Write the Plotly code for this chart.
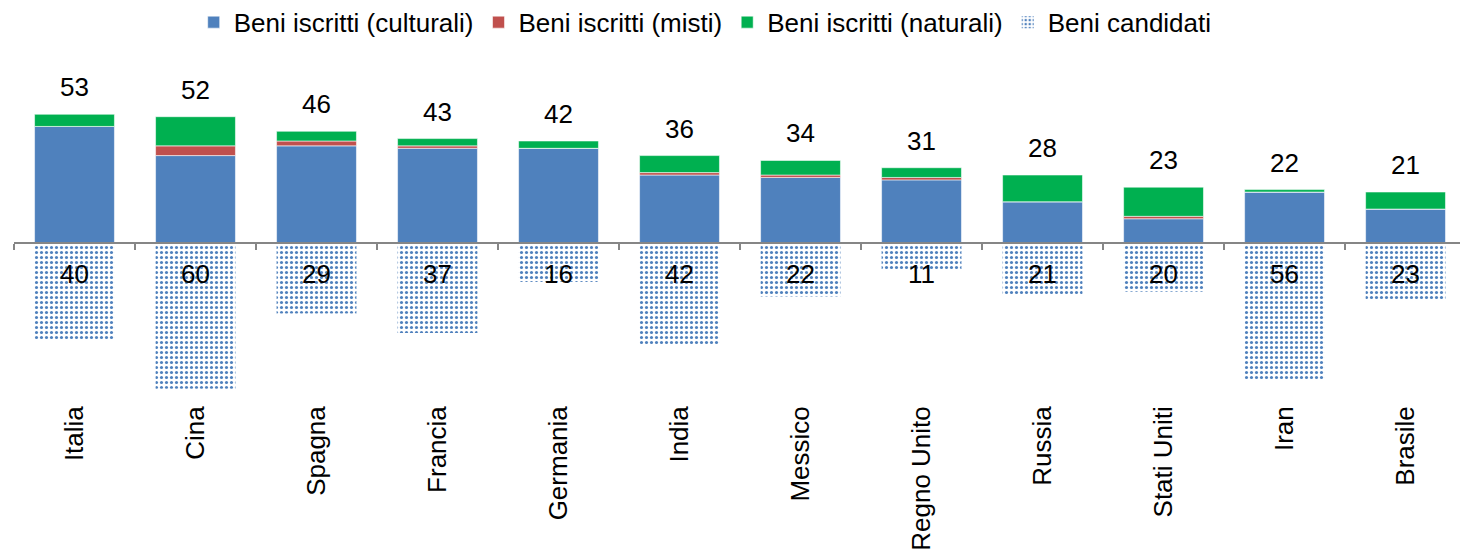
import plotly.graph_objects as go

countries = ["Italia", "Cina", "Spagna", "Francia", "Germania", "India", "Messico",
             "Regno Unito", "Russia", "Stati Uniti", "Iran", "Brasile"]
culturali = [48, 36, 40, 39, 39, 28, 27, 26, 17, 10, 21, 14]
misti = [0, 4, 2, 1, 0, 1, 1, 1, 0, 1, 0, 0]
naturali = [5, 12, 4, 3, 3, 7, 6, 4, 11, 12, 1, 7]
candidati = [40, 60, 29, 37, 16, 42, 22, 11, 21, 20, 56, 23]

totali = [c + m + n for c, m, n in zip(culturali, misti, naturali)]
cand_neg = [-v for v in candidati]

FONT = "Liberation Sans, Arial, sans-serif"
BLUE = "#4F81BD"
RED = "#C0504D"
GREEN = "#00B050"
AXIS = "#868686"

YMIN, YMAX = -64.6, 77.4
XR = [-0.5, 11.45]

fig = go.Figure()
edge = dict(color="rgba(255,255,255,0.55)", width=1)
fig.add_trace(go.Bar(x=countries, y=culturali, name="Beni iscritti (culturali)",
                     marker=dict(color=BLUE, line=edge), width=0.66))
fig.add_trace(go.Bar(x=countries, y=misti, name="Beni iscritti (misti)",
                     marker=dict(color=RED, line=edge), width=0.66))
fig.add_trace(go.Bar(x=countries, y=naturali, name="Beni iscritti (naturali)",
                     marker=dict(color=GREEN, line=edge), width=0.66))
fig.add_trace(go.Bar(x=countries, y=cand_neg, name="Beni candidati",
                     marker=dict(color="white", line=dict(width=0),
                                 pattern=dict(shape=".", fgcolor=BLUE, bgcolor="white",
                                              size=5, solidity=0.3, fillmode="replace")),
                     width=0.66))

# dummy trace so the zero-line axis is drawn
fig.add_trace(go.Scatter(x=[XR[0], XR[1]], y=[0, 0], xaxis="x2", mode="none",
                         showlegend=False, hoverinfo="skip"))

for c, t in zip(countries, totali):
    fig.add_annotation(x=c, y=t, text=str(t), showarrow=False, yshift=27,
                       yanchor="middle", font=dict(size=26, color="black", family=FONT))
for c, v in zip(countries, candidati):
    fig.add_annotation(x=c, y=0, text=str(v), showarrow=False, yshift=-31,
                       yanchor="middle", font=dict(size=26, color="black", family=FONT))

boundaries = [i - 0.5 for i in range(len(countries) + 1)]

fig.update_layout(
    width=1460, height=552,
    barmode="relative",
    plot_bgcolor="white", paper_bgcolor="white",
    margin=dict(l=13.5, r=0, t=55, b=152, autoexpand=False),
    font=dict(family=FONT, size=26, color="black"),
    showlegend=True,
    legend=dict(orientation="h", x=0.478, xanchor="center", y=1.095, yref="paper",
                yanchor="middle", font=dict(size=26, family=FONT), traceorder="normal",
                itemclick=False),
    xaxis=dict(type="category", range=XR, tickangle=-90, showline=False, ticks="",
               showgrid=False, zeroline=False, automargin=False,
               tickfont=dict(size=26, family=FONT)),
    xaxis2=dict(overlaying="x", anchor="free", position=(0 - YMIN) / (YMAX - YMIN),
                range=XR, showline=True, linecolor=AXIS, linewidth=2,
                ticks="outside", ticklen=6, tickwidth=2, tickcolor=AXIS,
                tickvals=boundaries, showticklabels=False, showgrid=False, zeroline=False),
    yaxis=dict(range=[YMIN, YMAX], visible=False, showgrid=False, zeroline=False),
)

fig.write_html("out.html", config={"displayModeBar": False},
               post_script="document.body.style.margin='0px';")
